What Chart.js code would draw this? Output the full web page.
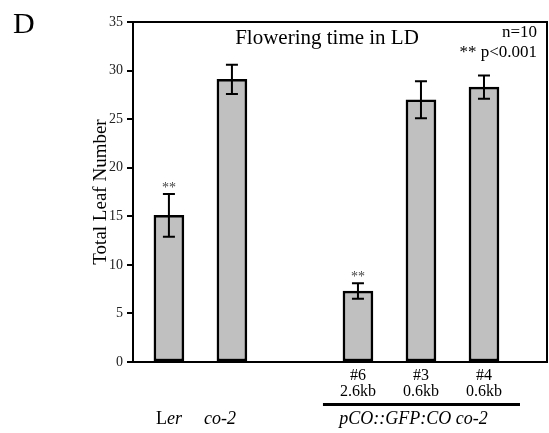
<!DOCTYPE html>
<html><head><meta charset="utf-8">
<script src="https://cdn.jsdelivr.net/npm/chart.js@4/dist/chart.umd.min.js"></script>
<style>html,body{margin:0;padding:0;background:#fff}#wrap{width:549px;height:433px}</style>
</head><body><div id="wrap"><canvas id="c" width="549" height="433"></canvas></div>
<script>
const categories = ['Ler', 'co-2', '', '#6', '#3', '#4'];
const subLabels = ['', '', '', '2.6kb', '0.6kb', '0.6kb'];
const values = [15.1, 29.1, null, 7.3, 27.0, 28.3];
const errors = [2.2, 1.5, null, 0.8, 1.9, 1.2];
const significance = ['**', '', '', '**', '', ''];
const yTicks = [0, 5, 10, 15, 20, 25, 30, 35];
const groupLabel = 'pCO::GFP:CO co-2';

const SERIF = '"Liberation Serif", "Times New Roman", serif';
const points = [];
values.forEach((v, i) => { if (v !== null) points.push({x: i + 1, y: v, i: i}); });

const overlay = {
  id: 'overlay',
  afterDatasetsDraw(chart) {
    const ctx = chart.ctx, xs = chart.scales.x, ys = chart.scales.y, a = chart.chartArea;
    ctx.save();
    ctx.strokeStyle = '#000'; ctx.lineWidth = 2;
    points.forEach(p => {
      const e = errors[p.i];
      const x = xs.getPixelForValue(p.x);
      const yt = ys.getPixelForValue(p.y + e), yb = ys.getPixelForValue(p.y - e);
      ctx.beginPath();
      ctx.moveTo(x, yt); ctx.lineTo(x, yb);
      ctx.moveTo(x - 6, yt); ctx.lineTo(x + 6, yt);
      ctx.moveTo(x - 6, yb); ctx.lineTo(x + 6, yb);
      ctx.stroke();
      if (significance[p.i]) {
        ctx.fillStyle = '#444'; ctx.font = '14px ' + SERIF;
        ctx.textAlign = 'center'; ctx.textBaseline = 'middle';
        ctx.fillText(significance[p.i], x, yt - 6);
      }
    });
    ctx.lineWidth = 2;
    ctx.strokeRect(a.left, a.top, a.right - a.left, a.bottom - a.top);
    ctx.restore();
  },
  afterDraw(chart) {
    const ctx = chart.ctx, xs = chart.scales.x, a = chart.chartArea;
    ctx.save();
    ctx.fillStyle = '#000';
    ctx.textBaseline = 'alphabetic';
    ctx.textAlign = 'left'; ctx.font = '30px ' + SERIF;
    ctx.fillText('D', 13, 33);
    ctx.textAlign = 'center'; ctx.font = '21px ' + SERIF;
    ctx.fillText('Flowering time in LD', 327, 44);
    ctx.textAlign = 'right'; ctx.font = '17px ' + SERIF;
    ctx.fillText('n=10', 537, 37);
    ctx.fillText('** p<0.001', 537, 57);
    ctx.save();
    ctx.translate(101, (a.top + a.bottom) / 2);
    ctx.rotate(-Math.PI / 2);
    ctx.textAlign = 'center'; ctx.textBaseline = 'middle'; ctx.font = '19px ' + SERIF;
    ctx.fillText('Total Leaf Number', 0, 0);
    ctx.restore();
    ctx.font = '18px ' + SERIF; ctx.textBaseline = 'alphabetic';
    const xL = xs.getPixelForValue(1);
    const wL = ctx.measureText('L').width;
    ctx.font = 'italic 18px ' + SERIF;
    const wer = ctx.measureText('er').width;
    let sx = xL - (wL + wer) / 2;
    ctx.textAlign = 'left';
    ctx.font = '18px ' + SERIF; ctx.fillText('L', sx, 424);
    ctx.font = 'italic 18px ' + SERIF; ctx.fillText('er', sx + wL, 424);
    ctx.textAlign = 'center';
    ctx.fillText(categories[1], xs.getPixelForValue(2) - 12, 424);
    const g1 = xs.getPixelForValue(4) - 35, g2 = xs.getPixelForValue(6) + 36;
    ctx.fillRect(g1, 403, g2 - g1, 3);
    ctx.fillText(groupLabel, (g1 + g2) / 2 - 8, 424);
    ctx.restore();
  }
};

new Chart(document.getElementById('c'), {
  type: 'bar',
  data: {
    datasets: [{
      data: points,
      backgroundColor: '#c0c0c0',
      borderColor: '#000',
      borderWidth: 2.5,
      borderSkipped: false,
      barThickness: 30
    }]
  },
  options: {
    responsive: false,
    animation: false,
    devicePixelRatio: 1,
    layout: {padding: {left: 0, top: 22, right: 2, bottom: 0}},
    plugins: {legend: {display: false}, tooltip: {enabled: false}},
    scales: {
      x: {
        type: 'linear', min: 0.43, max: 7.0, offset: false, bounds: 'ticks',
        grid: {display: false},
        border: {display: false},
        afterFit(s) { s.height = 71; },
        afterBuildTicks(s) { s.ticks = [4, 5, 6].map(v => ({value: v})); },
        ticks: {
          autoSkip: false, maxRotation: 0, padding: -3,
          color: '#000',
          font: {family: SERIF, size: 16, lineHeight: 1.05},
          callback: (v) => [categories[v - 1], subLabels[v - 1]]
        }
      },
      y: {
        min: 0, max: 35,
        afterFit(s) { s.width = 133; },
        afterBuildTicks(s) { s.ticks = yTicks.map(v => ({value: v})); },
        border: {display: false},
        grid: {drawOnChartArea: false, drawTicks: true, tickLength: 6, color: '#000', lineWidth: 2},
        ticks: {color: '#222', padding: 4, font: {family: SERIF, size: 14}}
      }
    }
  },
  plugins: [overlay]
});
</script></body></html>
